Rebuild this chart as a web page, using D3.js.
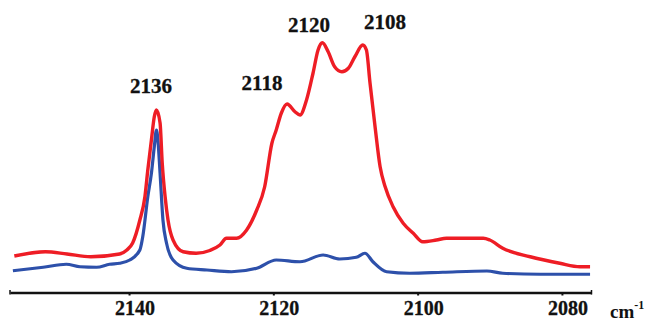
<!DOCTYPE html>
<html>
<head>
<meta charset="utf-8">
<script src="https://cdn.jsdelivr.net/npm/d3@7/dist/d3.min.js"></script>
<style>
  html, body { margin: 0; padding: 0; background: #fff; }
  svg { display: block; }
</style>
</head>
<body>
<svg id="chart" width="651" height="323"></svg>
<script>
// IR spectra, CO stretching region (wavenumber in cm-1, absorbance in a.u.)
const redWavenumber = [2155.9, 2151.6, 2148.6, 2145.3, 2141.3, 2140.3, 2139.5, 2138.5, 2137.8, 2137.4,
  2136.9, 2136.5, 2136.2, 2135.7, 2135.4, 2135.0, 2134.6, 2133.9, 2132.5, 2130.7,
  2128.8, 2127.4, 2126.5, 2125.1, 2123.7, 2122.3, 2121.2, 2120.2, 2119.6, 2118.9,
  2118.1, 2117.0, 2116.3, 2115.4, 2114.5, 2113.8, 2113.2, 2112.4, 2111.5, 2110.5,
  2109.6, 2108.7, 2107.6, 2107.1, 2106.6, 2105.9, 2105.2, 2104.5, 2103.4, 2102.0,
  2100.6, 2099.3, 2097.4, 2096.0, 2090.9, 2090.0, 2088.2, 2084.4, 2080.3, 2077.5, 2076.1];
const redAbsorbance = [0.144, 0.161, 0.152, 0.141, 0.152, 0.168, 0.196, 0.288, 0.381, 0.488,
  0.608, 0.701, 0.728, 0.676, 0.516, 0.381, 0.288, 0.208, 0.161, 0.155,
  0.166, 0.188, 0.215, 0.215, 0.248, 0.328, 0.421, 0.595, 0.648, 0.715,
  0.752, 0.721, 0.708, 0.768, 0.875, 0.968, 0.997, 0.961, 0.901, 0.881,
  0.895, 0.941, 0.988, 0.968, 0.836, 0.661, 0.501, 0.421, 0.341, 0.275,
  0.235, 0.201, 0.208, 0.215, 0.215, 0.208, 0.175, 0.141, 0.115, 0.101, 0.101];

const blueWavenumber = [2156.1, 2151.9, 2148.7, 2146.8, 2144.5, 2142.7, 2141.3, 2139.9, 2138.5, 2138.1,
  2137.4, 2136.9, 2136.5, 2136.2, 2136.0, 2135.7, 2135.3, 2134.8, 2133.9, 2132.0,
  2129.2, 2125.8, 2122.3, 2119.6, 2116.3, 2113.1, 2110.8, 2108.5, 2107.3, 2106.2,
  2104.3, 2101.1, 2096.5, 2090.4, 2088.2, 2083.0, 2076.1];
const blueAbsorbance = [0.085, 0.099, 0.111, 0.101, 0.099, 0.111, 0.115, 0.128, 0.168, 0.221,
  0.381, 0.475, 0.581, 0.648, 0.608, 0.475, 0.288, 0.195, 0.128, 0.095,
  0.088, 0.081, 0.095, 0.128, 0.121, 0.148, 0.132, 0.139, 0.155, 0.121,
  0.081, 0.075, 0.079, 0.084, 0.075, 0.071, 0.071];

const tickValues = [2140, 2120, 2100, 2080];
const peakLabels = ["2136", "2118", "2120", "2108"];
const axisUnit = "cm";
const axisUnitExp = "-1";

const FONT = "'Liberation Serif', 'Times New Roman', Times, serif";
const svg = d3.select("#chart");

// Reversed wavenumber axis (high to low, left to right)
const x = d3.scaleLinear().domain([2156.5, 2075.9]).range([10, 591.5]);
const y = d3.scaleLinear().domain([0, 1]).range([292, 42]);

const line = d3.line()
  .x(d => x(d[0]))
  .y(d => y(d[1]))
  .curve(d3.curveMonotoneX);

const blue = d3.zip(blueWavenumber, blueAbsorbance);
const red = d3.zip(redWavenumber, redAbsorbance);

svg.append("path").datum(blue)
  .attr("d", line).attr("fill", "none")
  .attr("stroke", "#2d50aa").attr("stroke-width", 3.2)
  .attr("stroke-linejoin", "round");

svg.append("path").datum(red)
  .attr("d", line).attr("fill", "none")
  .attr("stroke", "#ee1d25").attr("stroke-width", 3.4)
  .attr("stroke-linejoin", "round");

// Bottom axis
const axisY = 292.5;
const axis = d3.axisBottom(x).tickValues(tickValues).tickSize(3).tickSizeOuter(0).tickFormat("");
const gAxis = svg.append("g").attr("transform", `translate(0,${axisY})`).call(axis);
gAxis.select(".domain").attr("stroke", "#111").attr("stroke-width", 2.6);
gAxis.selectAll(".tick line").attr("stroke", "#111").attr("stroke-width", 2);

// End caps of the axis line
[x.range()[0], x.range()[1]].forEach(px => {
  svg.append("line").attr("x1", px).attr("x2", px)
    .attr("y1", axisY - 2.5).attr("y2", axisY + 2)
    .attr("stroke", "#111").attr("stroke-width", 1.5);
});

function label(txt, px, py, size) {
  return svg.append("text")
    .attr("x", px).attr("y", py)
    .attr("text-anchor", "middle")
    .attr("font-family", FONT)
    .attr("font-weight", "bold")
    .attr("font-size", size)
    .attr("fill", "#111")
    .attr("stroke", "#111").attr("stroke-width", 0.3)
    .text(txt);
}

// Tick labels
tickValues.forEach(v => label(v, x(v) + 6, 315, 20));

// Unit label
const unit = svg.append("text")
  .attr("x", 610).attr("y", 318)
  .attr("font-family", FONT).attr("font-weight", "bold")
  .attr("font-size", 19).attr("fill", "#111");
unit.append("tspan").text(axisUnit);
unit.append("tspan").attr("dy", -9).attr("font-size", 12).text(axisUnitExp);

// Peak annotations
const peakPos = [[151, 93], [262, 90], [309, 32], [385, 29]];
peakLabels.forEach((t, i) => label(t, peakPos[i][0], peakPos[i][1], 21));
</script>
</body>
</html>
